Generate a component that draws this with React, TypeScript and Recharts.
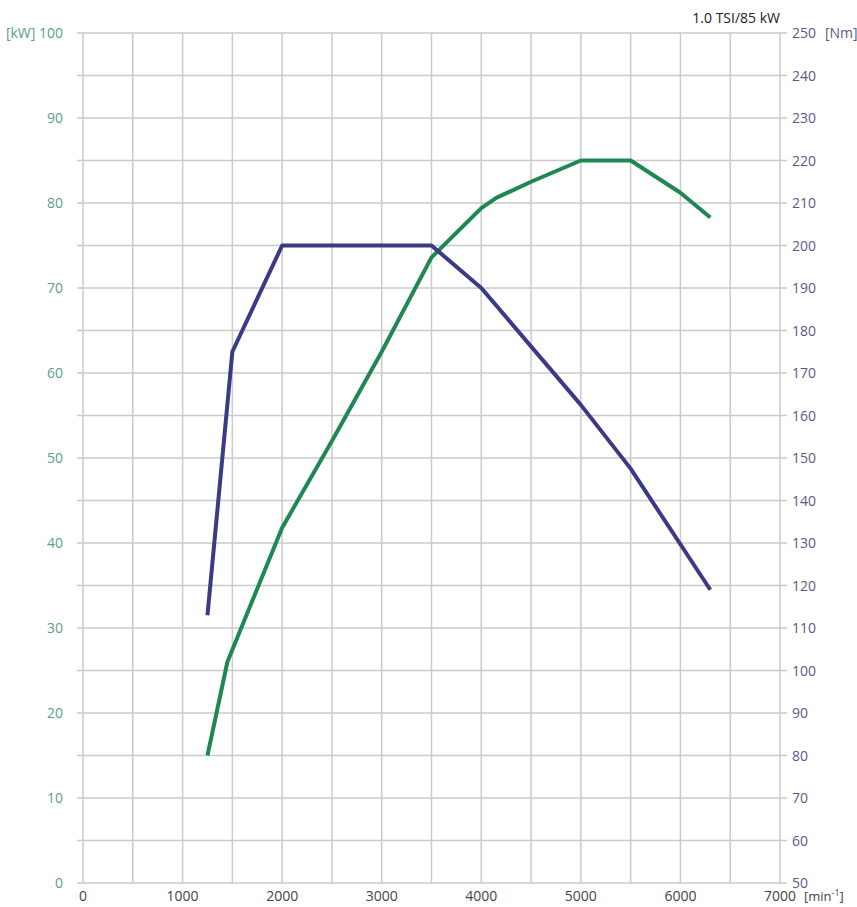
import { LineChart, Line, XAxis, YAxis, CartesianGrid } from 'recharts';

// engine speed [min-1] and power [kW]
const powerRpm = [1250, 1450, 2000, 2500, 3000, 3500, 4000, 4150, 4500, 5000, 5500, 6000, 6300];
const powerKw = [15, 26, 41.8, 52, 62.5, 73.6, 79.4, 80.6, 82.5, 85, 85, 81.2, 78.3];

// engine speed [min-1] and torque [Nm]
const torqueRpm = [1250, 1500, 2000, 3500, 4000, 5000, 5500, 6300];
const torqueNm = [113, 175, 200, 200, 190, 162.5, 147.5, 119];

const rpmTicks = [0, 500, 1000, 1500, 2000, 2500, 3000, 3500, 4000, 4500, 5000, 5500, 6000, 6500, 7000];
const kwTicks = [0, 5, 10, 15, 20, 25, 30, 35, 40, 45, 50, 55, 60, 65, 70, 75, 80, 85, 90, 95, 100];
const nmTicks = [50, 60, 70, 80, 90, 100, 110, 120, 130, 140, 150, 160, 170, 180, 190, 200, 210, 220, 230, 240, 250];

const title = '1.0 TSI/85 kW';

const GREEN = '#1f8754';
const PURPLE = '#3b3a85';
const GRID = '#cacaca';
const FONT = '"Open Sans", sans-serif';

const powerData = powerRpm.map((rpm, i) => ({ rpm, kw: powerKw[i] }));
const torqueData = torqueRpm.map((rpm, i) => ({ rpm, nm: torqueNm[i] }));

function KwTick({ x, y, payload }: any) {
  const v = payload.value;
  if (v % 10 !== 0) return null;
  return (
    <text x={x} y={y} dy={5} textAnchor="end" fill="#5c9f82" fontSize={14} fontFamily={FONT}>
      {v === 100 ? '[kW] 100' : v}
    </text>
  );
}

function NmTick({ x, y, payload }: any) {
  const v = payload.value;
  return (
    <g>
      <text x={x} y={y} dy={5} textAnchor="start" fill="#5a5a86" fontSize={14} fontFamily={FONT}>
        {v}
      </text>
      {v === 250 && (
        <text x={x + 33} y={y} dy={5} textAnchor="start" fill="#5a5a86" fontSize={14} fontFamily={FONT}>
          [Nm]
        </text>
      )}
    </g>
  );
}

function RpmTick({ x, y, payload }: any) {
  const v = payload.value;
  if (v % 1000 !== 0) return null;
  return (
    <g>
      <text x={x} y={y} dy={10} textAnchor="middle" fill="#444" fontSize={14} fontFamily={FONT}>
        {v}
      </text>
      {v === 7000 && (
        <text x={x + 24} y={y} dy={10} textAnchor="start" fill="#444" fontSize={13} fontFamily={FONT}>
          [min<tspan dy={-5} fontSize={9}>-1</tspan><tspan dy={5}>]</tspan>
        </text>
      )}
    </g>
  );
}

export default function App() {
  return (
    <div style={{ position: 'absolute', left: 0, top: 0, width: 857, height: 907, background: '#fff' }}>
      <div
        style={{
          position: 'absolute',
          right: 77,
          top: 8,
          fontFamily: FONT,
          fontSize: 14,
          color: '#222',
        }}
      >
        {title}
      </div>
      <LineChart width={857} height={907} margin={{ top: 33, right: 0, bottom: 0, left: 0 }}>
        <CartesianGrid yAxisId="kw" stroke={GRID} strokeWidth={1.5} />
        <XAxis
          dataKey="rpm"
          type="number"
          domain={[0, 7000]}
          ticks={rpmTicks}
          allowDuplicatedCategory={false}
          axisLine={false}
          tickLine={false}
          height={24}
          tick={<RpmTick />}
          interval={0}
        />
        <YAxis
          yAxisId="kw"
          orientation="left"
          domain={[0, 100]}
          ticks={kwTicks}
          width={83}
          axisLine={false}
          tickLine={{ stroke: GRID, strokeWidth: 1.5 }}
          tickSize={6}
          tickMargin={14}
          tick={<KwTick />}
          interval={0}
        />
        <YAxis
          yAxisId="nm"
          orientation="right"
          domain={[50, 250]}
          ticks={nmTicks}
          width={77}
          axisLine={false}
          tickLine={{ stroke: GRID, strokeWidth: 1.5 }}
          tickSize={7}
          tickMargin={5}
          tick={<NmTick />}
          interval={0}
        />
        <Line
          yAxisId="kw"
          data={powerData}
          dataKey="kw"
          stroke={GREEN}
          strokeWidth={4}
          dot={false}
          strokeLinejoin="round"
          isAnimationActive={false}
        />
        <Line
          yAxisId="nm"
          data={torqueData}
          dataKey="nm"
          stroke={PURPLE}
          strokeWidth={4}
          dot={false}
          strokeLinejoin="round"
          isAnimationActive={false}
        />
      </LineChart>
    </div>
  );
}
